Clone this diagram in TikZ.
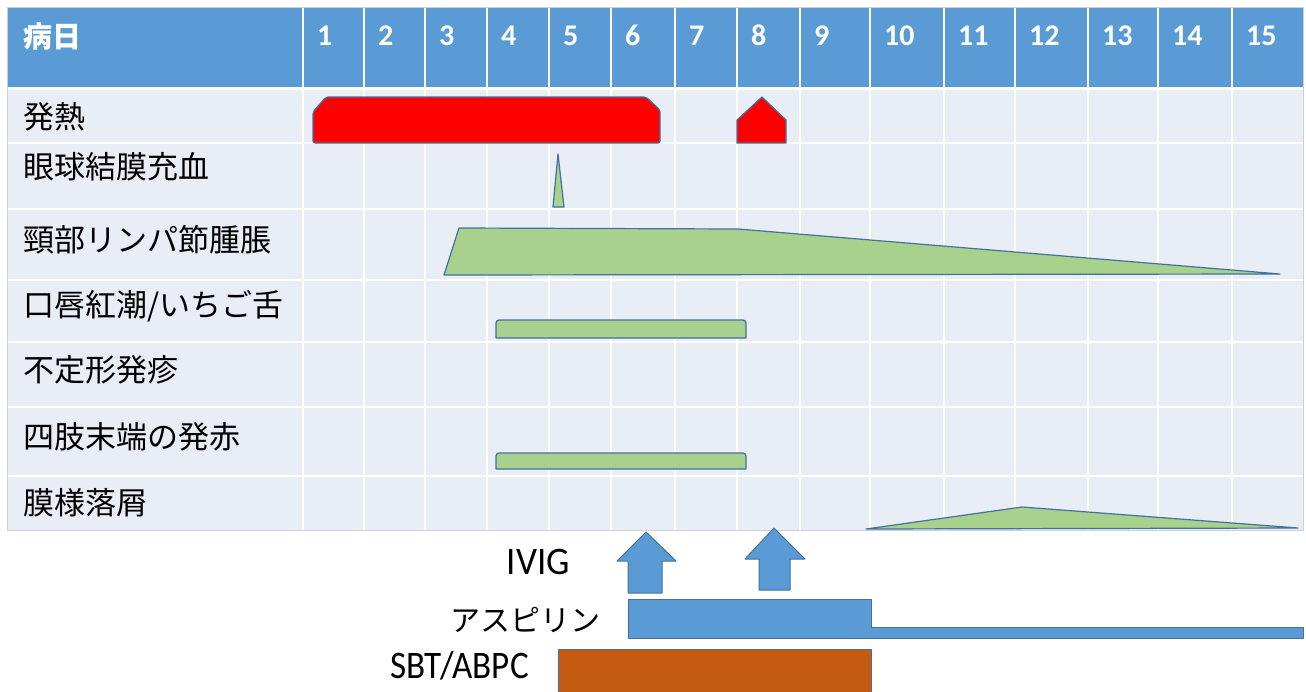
\documentclass[tikz,border=0pt]{standalone}
\usepackage{fontspec}
\setmainfont{Carlito}
\newfontfamily\jp{Noto Sans CJK JP}
\usepackage{tikz}

\definecolor{hdrblue}{RGB}{91,155,213}
\definecolor{bodybg}{RGB}{233,237,246}
\definecolor{edgeblue}{RGB}{65,113,156}
\definecolor{fevred}{RGB}{255,0,0}
\definecolor{signgreen}{RGB}{169,209,142}
\definecolor{drugorange}{RGB}{197,90,17}
\definecolor{framegray}{RGB}{205,208,214}

\begin{document}
\begin{tikzpicture}[x=1pt, y=-1pt,
        daytext/.style={anchor=base west, inner sep=0pt, text=white, font=\fontsize{30}{30}\selectfont\bfseries},
        rowlabel/.style={anchor=west, inner sep=0pt, font=\jp\fontsize{31}{31}\selectfont},
        gridline/.style={white, line width=2pt},
        sign/.style={draw=edgeblue, line width=1.2pt, fill=signgreen, line join=round},
        fever/.style={draw=edgeblue, line width=1.2pt, fill=fevred, line join=round},
        drug/.style={draw=edgeblue, line width=1pt, line join=round}]
        \useasboundingbox (0,0) rectangle (1306,691);

        \fill[bodybg] (7,90) rectangle (1303,530);
        \fill[hdrblue] (7,7) rectangle (1303,87);

        \foreach \cx in {303,364,425,487,549,611,675,737,800,870,944,1015,1088,1158,1232}
            \draw[gridline] (\cx,7) -- (\cx,530);
        \foreach \ry in {143,209,280,342,407,476}
            \draw[gridline, line width=2.5pt] (7,\ry) -- (1303,\ry);
        \draw[white, line width=3pt] (7,88.5) -- (1303,88.5);
        \draw[framegray, line width=1pt] (7,7) rectangle (1303,530);

        \node[daytext, anchor=west, font=\jp\fontsize{29}{29}\selectfont\bfseries] (day) at (23,36) {病日};
        \node[daytext] (d1) at (317,45) {1};
        \node[daytext] (d2) at (378,45) {2};
        \node[daytext] (d3) at (439,45) {3};
        \node[daytext] (d4) at (501,45) {4};
        \node[daytext] (d5) at (563,45) {5};
        \node[daytext] (d6) at (625,45) {6};
        \node[daytext] (d7) at (689,45) {7};
        \node[daytext] (d8) at (751,45) {8};
        \node[daytext] (d9) at (814,45) {9};
        \node[daytext] (d10) at (884,45) {10};
        \node[daytext] (d11) at (958,45) {11};
        \node[daytext] (d12) at (1029,45) {12};
        \node[daytext] (d13) at (1102,45) {13};
        \node[daytext] (d14) at (1172,45) {14};
        \node[daytext] (d15) at (1246,45) {15};

        \node[rowlabel] (fever) at (23,117) {発熱};
        \node[rowlabel] (conj) at (23,167) {眼球結膜充血};
        \node[rowlabel] (lymph) at (23,240) {頸部リンパ節腫脹};
        \node[rowlabel] (lips) at (23,306) {口唇紅潮/いちご舌};
        \node[rowlabel] (rash) at (23,370) {不定形発疹};
        \node[rowlabel] (limbs) at (23,437) {四肢末端の発赤};
        \node[rowlabel] (desq) at (23,503) {膜様落屑};

        \draw[fever, rounded corners=2pt] (313,112) -- (326,97) -- (646,97) -- (660,110) -- (660,143) -- (313,143) -- cycle;
        \draw[fever] (737,120) -- (762,97) -- (786,120) -- (786,143) -- (737,143) -- cycle;
        \draw[sign] (553,207) -- (558,154) -- (564,207) -- cycle;
        \draw[sign] (444,275) -- (459,228) -- (738,229) -- (1280,274) -- cycle;
        \draw[sign] (496,338) {[rounded corners=3pt] -- (496,320) -- (746,320)} -- (746,338) -- cycle;
        \draw[sign] (496,469) {[rounded corners=3pt] -- (496,453) -- (746,453)} -- (746,469) -- cycle;
        \draw[sign] (866,529) -- (1022,507) -- (1298,528) -- cycle;

        \draw[drug, fill=hdrblue] (628,593) -- (628,561) -- (617,561) -- (646,532) -- (676,561) -- (662,561) -- (662,593) -- cycle;
        \draw[drug, fill=hdrblue] (759,590) -- (759,559) -- (745,559) -- (774,528) -- (805,559) -- (790,559) -- (790,590) -- cycle;
        \draw[drug, fill=hdrblue] (628,599) -- (871,599) -- (871,627) -- (1303,627) -- (1303,638) -- (628,638) -- cycle;
        \draw[drug, fill=drugorange] (558,649) rectangle (871,692);

        \node[anchor=base east, inner sep=0pt, font=\fontsize{39}{39}\selectfont] (ivig) at (570,574) {\scalebox{0.95}[1]{IVIG}};
        \node[anchor=east, inner sep=0pt, font=\jp\fontsize{30}{30}\selectfont] (asa) at (601,620) {アスピリン};
        \node[anchor=base east, inner sep=0pt, font=\fontsize{39}{39}\selectfont] (sbt) at (529,678) {\scalebox{0.9}[1]{SBT/ABPC}};
    \end{tikzpicture}
\end{document}
